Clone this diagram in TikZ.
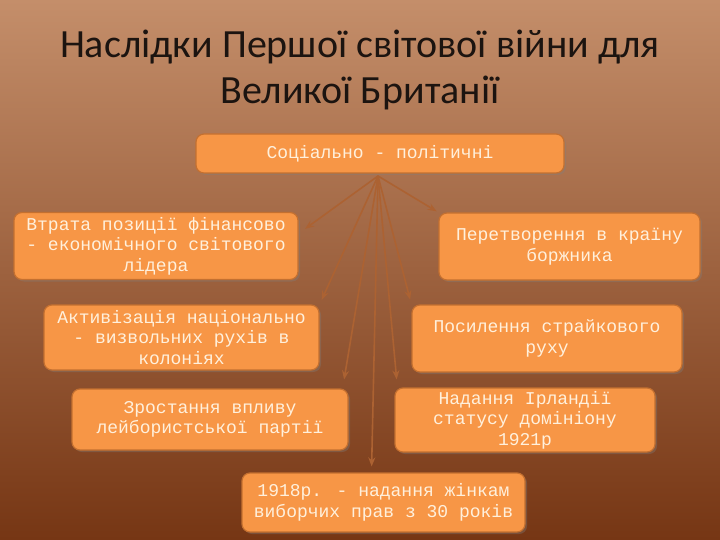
\documentclass[tikz,border=0pt]{standalone}
\usepackage{fontspec}
\setmainfont{Carlito}
\newfontfamily\monofont{Liberation Mono}
\usetikzlibrary{arrows.meta,shadows}

\definecolor{fonverh}{RGB}{196,142,106}
\definecolor{fonser}{RGB}{176,104,62}
\definecolor{fonniz}{RGB}{118,54,20}
\definecolor{pomar}{RGB}{247,150,70}
\definecolor{ramka}{RGB}{196,112,48}
\definecolor{tekst}{RGB}{255,240,220}
\definecolor{strilkakol}{RGB}{172,98,50}
\definecolor{titul}{RGB}{28,20,16}

\tikzset{
	naslidok/.style={draw=ramka, line width=1.2pt, fill=pomar, rounded corners=8pt,
		inner sep=0pt, align=center, text=tekst,
		font=\monofont\fontsize{18}{20.5}\selectfont,
		drop shadow={opacity=0.35, shadow xshift=2pt, shadow yshift=-2pt}},
	strilka/.style={draw=strilkakol, line width=1.6pt, -{Stealth[length=9pt,width=7pt]}}
}

\begin{document}
\begin{tikzpicture}[x=1pt,y=-1pt]
		\useasboundingbox (0,0) rectangle (720,540);
		\shade[top color=fonverh, middle color=fonser, bottom color=fonniz] (0,0) rectangle (720,540);
		% zagolovok
		\node[font=\fontsize{40}{46}\selectfont, text=titul, align=center] (nazva) at (360,70) {Наслідки Першої світової війни для\\Великої Британії};
		% bloky
		\node[naslidok, minimum width=368pt, minimum height=39pt] (sots) at (380,153.5) {Соціально - політичні};
		\node[naslidok, minimum width=284pt, minimum height=67pt] (vtrata) at (156,246) {Втрата позиції фінансово\\- економічного світового\\лідера};
		\node[naslidok, minimum width=261pt, minimum height=67pt] (peretv) at (569.5,246.5) {Перетворення в країну\\боржника};
		\node[naslidok, minimum width=275pt, minimum height=65pt] (aktyv) at (181.5,337.5) {Активізація національно\\- визвольних рухів в\\колоніях};
		\node[naslidok, minimum width=270pt, minimum height=67pt] (posyl) at (547,338.5) {Посилення страйкового\\руху};
		\node[naslidok, minimum width=276pt, minimum height=61pt] (zrost) at (210,419.5) {Зростання впливу\\лейбористської партії};
		\node[naslidok, minimum width=260pt, minimum height=64pt] (nadan) at (525,420) {Надання Ірландії\\статусу домініону\\1921р};
		\node[naslidok, minimum width=283pt, minimum height=59pt] (zhinky) at (383.5,502.5) {1918р. - надання жінкам\\виборчих прав з 30 років};
		% strilky
		\coordinate (dzherelo) at (378,176);
		\draw[strilka, shorten >=8pt] (dzherelo) -- (vtrata.5);
		\draw[strilka, shorten >=2pt] (dzherelo) -- (peretv.north west);
		\draw[strilka, shorten >=5pt] (dzherelo) -- (aktyv.north east);
		\draw[strilka, shorten >=5pt] (dzherelo) -- (posyl.north west);
		\draw[strilka, shorten >=9pt] (dzherelo) -- ([xshift=-6pt]zrost.north east);
		\draw[strilka, shorten >=8pt] (dzherelo) -- ([xshift=3pt]nadan.north west);
		\draw[strilka, shorten >=6pt] (dzherelo) -- ([xshift=-12pt]zhinky.north);
	\end{tikzpicture}
\end{document}
